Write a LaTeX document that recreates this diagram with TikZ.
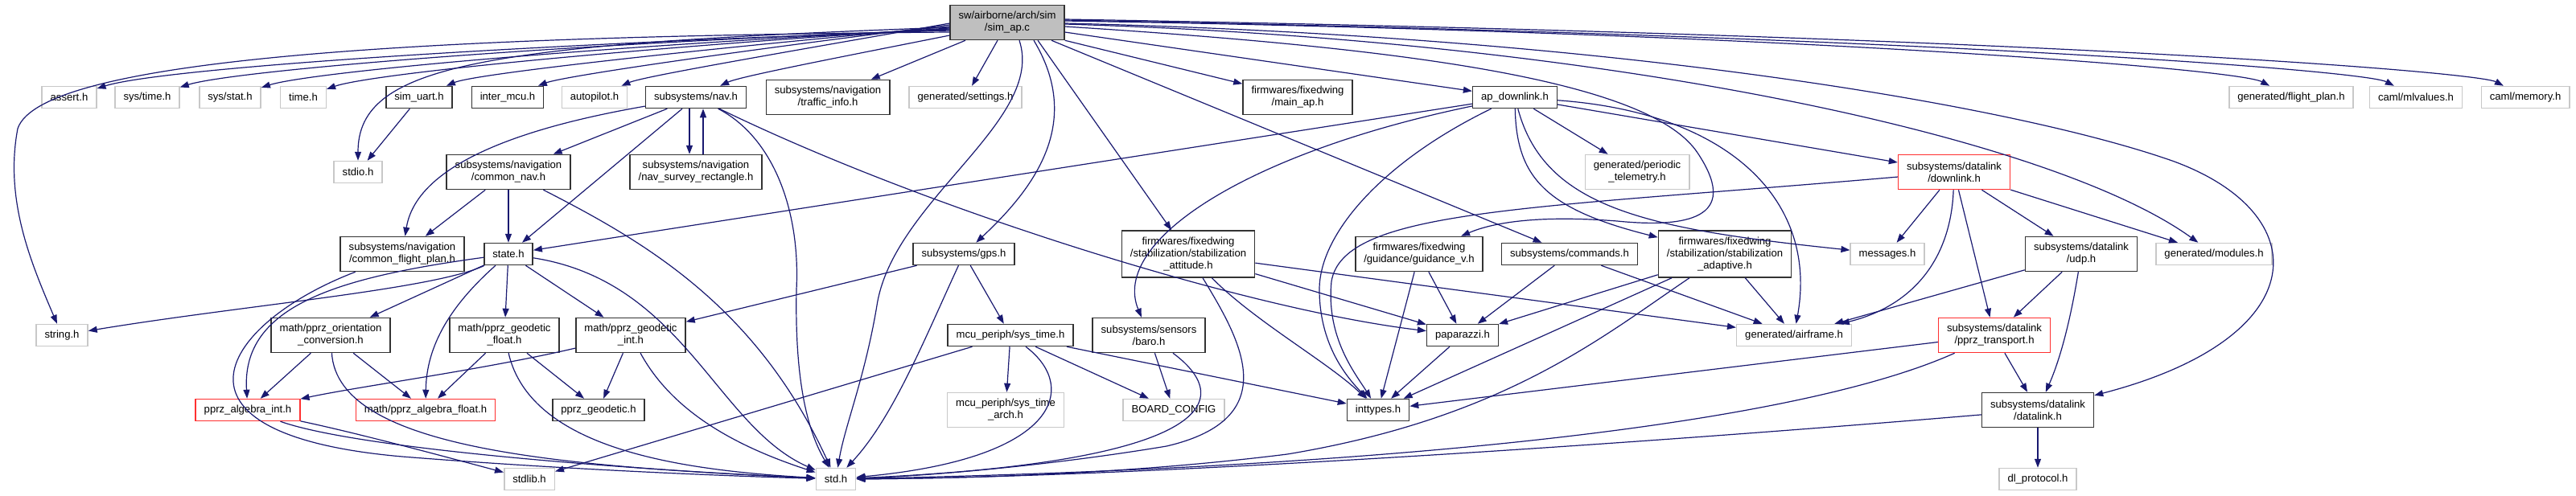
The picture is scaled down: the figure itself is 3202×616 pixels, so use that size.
\documentclass[tikz,border=0pt]{standalone}
\usepackage{fontspec}
\setmainfont{Liberation Sans}
\usetikzlibrary{arrows.meta}
\definecolor{edgeblue}{HTML}{191970}
\definecolor{rootgray}{HTML}{BFBFBF}
\definecolor{extgray}{HTML}{C8C8C8}
\definecolor{truncred}{HTML}{FF3030}

\begin{document}
\begin{tikzpicture}[x=1pt,y=1pt,
  hdr/.style={draw=black!80,line width=1.5pt,fill=white,align=center,
    inner xsep=10.5pt,inner ysep=0pt,minimum height=27pt,
    font=\fontsize{13.1}{15}\selectfont},
  mainfile/.style={hdr,fill=rootgray},
  ext/.style={hdr,draw=extgray},
  trunc/.style={hdr,draw=truncred},
  dbl/.style={minimum height=43pt},
  trpl/.style={minimum height=58pt},
  inc/.style={draw=edgeblue,line width=1.2pt,-{Triangle[length=11pt,width=8pt]}}]
  \useasboundingbox (0,0) rectangle (3202,-616);

  % the source file
  \node[mainfile,dbl] (simap) at (1252,-28) {sw/airborne/arch/sim\\/sim\_ap.c};

  % first rank
  \node[ext] (assert) at (86,-121) {assert.h};
  \node[ext] (systime) at (183,-121) {sys/time.h};
  \node[ext] (sysstat) at (286,-121) {sys/stat.h};
  \node[ext] (timeh) at (377,-121) {time.h};
  \node[hdr] (simuart) at (521,-121) {sim\_uart.h};
  \node[hdr] (intermcu) at (631,-121) {inter\_mcu.h};
  \node[ext] (autopilot) at (739,-121) {autopilot.h};
  \node[hdr] (nav) at (865,-121) {subsystems/nav.h};
  \node[hdr,dbl] (traffic) at (1029,-121) {subsystems/navigation\\/traffic\_info.h};
  \node[ext] (settings) at (1200,-121) {generated/settings.h};
  \node[hdr,dbl] (mainap) at (1613,-121) {firmwares/fixedwing\\/main\_ap.h};
  \node[hdr] (apdown) at (1883,-121) {ap\_downlink.h};
  \node[ext] (flightplan) at (2848,-121) {generated/flight\_plan.h};
  \node[ext] (mlvalues) at (3003,-121) {caml/mlvalues.h};
  \node[ext] (memory) at (3139,-121) {caml/memory.h};

  % second rank
  \node[ext] (stdio) at (445,-214) {stdio.h};
  \node[hdr,dbl] (commonnav) at (632,-214) {subsystems/navigation\\/common\_nav.h};
  \node[hdr,dbl] (survey) at (865,-214) {subsystems/navigation\\/nav\_survey\_rectangle.h};
  \node[ext,dbl] (periodic) at (2035,-214) {generated/periodic\\\_telemetry.h};
  \node[trunc,dbl] (downlink) at (2429,-214) {subsystems/datalink\\/downlink.h};

  % third rank
  \node[hdr,dbl] (flightplanc) at (500,-316) {subsystems/navigation\\/common\_flight\_plan.h};
  \node[hdr] (state) at (632,-316) {state.h};
  \node[hdr] (gps) at (1198,-316) {subsystems/gps.h};
  \node[hdr,trpl] (stabatt) at (1477,-316) {firmwares/fixedwing\\/stabilization/stabilization\\\_attitude.h};
  \node[hdr,dbl] (guidv) at (1764,-316) {firmwares/fixedwing\\/guidance/guidance\_v.h};
  \node[hdr] (commands) at (1951,-316) {subsystems/commands.h};
  \node[hdr,trpl] (stabadapt) at (2144,-316) {firmwares/fixedwing\\/stabilization/stabilization\\\_adaptive.h};
  \node[ext] (messages) at (2346,-316) {messages.h};
  \node[hdr,dbl] (udp) at (2587,-316) {subsystems/datalink\\/udp.h};
  \node[ext] (modules) at (2752,-316) {generated/modules.h};

  % fourth rank
  \node[ext] (string) at (77,-417) {string.h};
  \node[hdr,dbl] (orient) at (411,-417) {math/pprz\_orientation\\\_conversion.h};
  \node[hdr,dbl] (geofloat) at (627,-417) {math/pprz\_geodetic\\\_float.h};
  \node[hdr,dbl] (geoint) at (784,-417) {math/pprz\_geodetic\\\_int.h};
  \node[hdr] (systimemcu) at (1256,-417) {mcu\_periph/sys\_time.h};
  \node[hdr,dbl] (baro) at (1428,-417) {subsystems/sensors\\/baro.h};
  \node[hdr] (paparazzi) at (1818,-417) {paparazzi.h};
  \node[ext] (airframe) at (2230,-417) {generated/airframe.h};
  \node[trunc,dbl] (transport) at (2479,-417) {subsystems/datalink\\/pprz\_transport.h};

  % fifth rank
  \node[trunc] (algint) at (308,-510) {pprz\_algebra\_int.h};
  \node[trunc] (algfloat) at (529,-510) {math/pprz\_algebra\_float.h};
  \node[hdr] (geodetic) at (744,-510) {pprz\_geodetic.h};
  \node[ext,dbl] (timearch) at (1250,-510) {mcu\_periph/sys\_time\\\_arch.h};
  \node[ext] (board) at (1459,-510) {BOARD\_CONFIG};
  \node[hdr] (inttypes) at (1713,-510) {inttypes.h};
  \node[hdr,dbl] (datalink) at (2533,-510) {subsystems/datalink\\/datalink.h};

  % last rank
  \node[ext] (stdlib) at (658,-596) {stdlib.h};
  \node[ext] (stdh) at (1039,-596) {std.h};
  \node[ext] (dlproto) at (2533,-596) {dl\_protocol.h};

  % includes of sim_ap.c, left fan
  \draw[inc] ([yshift=-12]simap.west) .. controls (500,-45) and (50,-75) .. (22,-160)
    .. controls (5,-250) and (40,-330) .. (string);
  \draw[inc] ([yshift=-10]simap.west) .. controls (640,-55) and (200,-85) .. (assert);
  \draw[inc] ([yshift=-9]simap.west) .. controls (680,-55) and (290,-88) .. (systime);
  \draw[inc] ([yshift=-8]simap.west) .. controls (730,-58) and (385,-90) .. (sysstat);
  \draw[inc] ([yshift=-7]simap.west) .. controls (780,-60) and (460,-92) .. (timeh);
  \draw[inc] ([yshift=-6]simap.west) .. controls (600,-55) and (445,-80) .. (stdio);
  \draw[inc] ([yshift=-5]simap.west) .. controls (860,-62) and (590,-92) .. (simuart);
  \draw[inc] ([yshift=-3]simap.west) .. controls (910,-64) and (700,-95) .. (intermcu);
  \draw[inc] ([yshift=-1]simap.west) .. controls (970,-66) and (800,-95) .. (autopilot);
  \draw[inc] ([yshift=-16]simap.west) .. controls (1050,-70) and (920,-95) .. (nav);
  % includes of sim_ap.c, downwards
  \draw[inc] ([xshift=-52]simap.south) -- (traffic);
  \draw[inc] ([xshift=-12]simap.south) -- (settings);
  \draw[inc] ([xshift=15]simap.south) .. controls (1300,-150) and (1110,-250) .. (1090,-380)
    .. controls (1075,-470) and (1050,-530) .. (stdh);
  \draw[inc] ([xshift=33]simap.south) .. controls (1345,-150) and (1290,-230) .. (gps);
  \draw[inc] ([xshift=38]simap.south) -- (stabatt);
  \draw[inc] ([xshift=55]simap.south) -- (commands);
  % includes of sim_ap.c, right fan
  \draw[inc] (simap.south east) -- (mainap);
  \draw[inc] ([yshift=-12]simap.east) -- (apdown);
  \draw[inc] ([yshift=-5]simap.east) .. controls (1750,-60) and (2050,-100) .. (2110,-190)
    .. controls (2160,-265) and (2110,-285) .. (2010,-275)
    .. controls (1920,-268) and (1860,-275) .. (guidv);
  \draw[inc] ([yshift=-2]simap.east) .. controls (2000,-50) and (2550,-170) .. (modules);
  \draw[inc] ([yshift=-1]simap.east) .. controls (2000,-45) and (2500,-130) .. (2700,-200)
    .. controls (2880,-265) and (2880,-420) .. (datalink);
  \draw[inc] ([yshift=2]simap.east) .. controls (2200,-40) and (2780,-85) .. (flightplan);
  \draw[inc] ([yshift=3]simap.east) .. controls (2400,-45) and (2940,-88) .. (mlvalues);
  \draw[inc] ([yshift=4]simap.east) .. controls (2550,-45) and (3080,-90) .. (memory);

  % navigation
  \draw[inc] (simuart) -- (stdio);
  \draw[inc] (nav) .. controls (700,-150) and (520,-190) .. (flightplanc);
  \draw[inc] (nav) -- (commonnav);
  \draw[inc] (nav) -- (state);
  \draw[inc] ([xshift=-8]nav.south) -- ([xshift=-8]survey.north);
  \draw[inc] ([xshift=9]survey.north) -- ([xshift=9]nav.south);
  \draw[inc] (nav) .. controls (960,-170) and (995,-260) .. (990,-360)
    .. controls (988,-460) and (1000,-530) .. (stdh);
  \draw[inc] (nav) .. controls (1150,-260) and (1550,-385) .. (paparazzi);
  \draw[inc] (commonnav) -- (flightplanc);
  \draw[inc] (commonnav) -- (state);
  \draw[inc] (commonnav) .. controls (800,-300) and (940,-380) .. (stdh);
  \draw[inc] (flightplanc) .. controls (280,-400) and (180,-540) .. (500,-568)
    .. controls (700,-584) and (900,-592) .. (stdh);

  % state and math
  \draw[inc] (state) .. controls (540,-360) and (300,-380) .. (string);
  \draw[inc] (state) .. controls (420,-345) and (300,-380) .. (algint);
  \draw[inc] (state) -- (orient);
  \draw[inc] (state) .. controls (560,-380) and (530,-430) .. (algfloat);
  \draw[inc] (state) -- (geofloat);
  \draw[inc] (state) -- (geoint);
  \draw[inc] (state) .. controls (850,-350) and (890,-530) .. (stdh);
  \draw[inc] (orient) -- (algint);
  \draw[inc] (orient) -- (algfloat);
  \draw[inc] (orient) .. controls (420,-560) and (700,-580) .. (stdh);
  \draw[inc] (geofloat) -- (algfloat);
  \draw[inc] (geofloat) -- (geodetic);
  \draw[inc] (geofloat) .. controls (660,-560) and (850,-585) .. (stdh);
  \draw[inc] (geoint) .. controls (600,-460) and (450,-480) .. (algint);
  \draw[inc] (geoint) -- (geodetic);
  \draw[inc] (geoint) .. controls (840,-520) and (930,-560) .. (stdh);
  \draw[inc] (algint) .. controls (450,-540) and (560,-570) .. (stdlib);
  \draw[inc] (algint) .. controls (450,-560) and (800,-585) .. (stdh);

  % gps, sys_time, baro
  \draw[inc] (gps) -- (geoint);
  \draw[inc] (gps) .. controls (1150,-420) and (1110,-520) .. (stdh);
  \draw[inc] (gps) -- (systimemcu);
  \draw[inc] (systimemcu) -- (timearch);
  \draw[inc] (systimemcu) -- (board);
  \draw[inc] (systimemcu) .. controls (1340,-480) and (1320,-570) .. (stdh);
  \draw[inc] (systimemcu) -- (inttypes);
  \draw[inc] (systimemcu) -- (stdlib);
  \draw[inc] (baro) -- (board);
  \draw[inc] (baro) .. controls (1540,-500) and (1500,-575) .. (stdh);

  % stabilization, guidance, commands
  \draw[inc] (stabatt) -- (airframe);
  \draw[inc] (stabatt) -- (paparazzi);
  \draw[inc] (stabatt) .. controls (1560,-400) and (1650,-450) .. (inttypes);
  \draw[inc] (stabatt) .. controls (1540,-420) and (1600,-520) .. (1450,-555)
    .. controls (1300,-580) and (1150,-592) .. (stdh);
  \draw[inc] (guidv) -- (inttypes);
  \draw[inc] (guidv) -- (paparazzi);
  \draw[inc] (commands) -- (paparazzi);
  \draw[inc] (commands) -- (airframe);
  \draw[inc] (stabadapt) -- (paparazzi);
  \draw[inc] (stabadapt) -- (inttypes);
  \draw[inc] (stabadapt) .. controls (1990,-420) and (1870,-520) .. (1600,-565)
    .. controls (1400,-590) and (1200,-595) .. (stdh);
  \draw[inc] (stabadapt) -- (airframe);
  \draw[inc] (paparazzi) -- (inttypes);

  % ap_downlink
  \draw[inc] (apdown) -- (state);
  \draw[inc] (apdown) .. controls (1550,-190) and (1380,-300) .. (baro);
  \draw[inc] (apdown) .. controls (1720,-200) and (1640,-290) .. (1640,-360)
    .. controls (1640,-430) and (1675,-470) .. (inttypes);
  \draw[inc] (apdown) .. controls (1885,-220) and (1920,-260) .. (stabadapt);
  \draw[inc] (apdown) .. controls (1920,-260) and (2050,-285) .. (messages);
  \draw[inc] (apdown) -- (periodic);
  \draw[inc] (apdown) .. controls (2150,-140) and (2260,-250) .. (airframe);
  \draw[inc] (apdown) -- (downlink);

  % datalink
  \draw[inc] (downlink) -- (messages);
  \draw[inc] (downlink) .. controls (1900,-260) and (1670,-260) .. (1655,-350)
    .. controls (1648,-420) and (1685,-465) .. (inttypes);
  \draw[inc] (downlink) .. controls (2425,-320) and (2380,-380) .. (airframe);
  \draw[inc] (downlink) -- (transport);
  \draw[inc] (downlink) -- (udp);
  \draw[inc] (downlink) -- (modules);
  \draw[inc] (udp) -- (airframe);
  \draw[inc] (udp) -- (transport);
  \draw[inc] (udp) .. controls (2570,-420) and (2555,-460) .. (datalink);
  \draw[inc] (transport) -- (datalink);
  \draw[inc] (transport) -- (inttypes);
  \draw[inc] (transport) .. controls (2250,-520) and (1800,-580) .. (stdh);
  \draw[inc] (datalink) -- (dlproto);
  \draw[inc] (datalink) .. controls (2000,-555) and (1400,-594) .. (stdh);
\end{tikzpicture}
\end{document}
